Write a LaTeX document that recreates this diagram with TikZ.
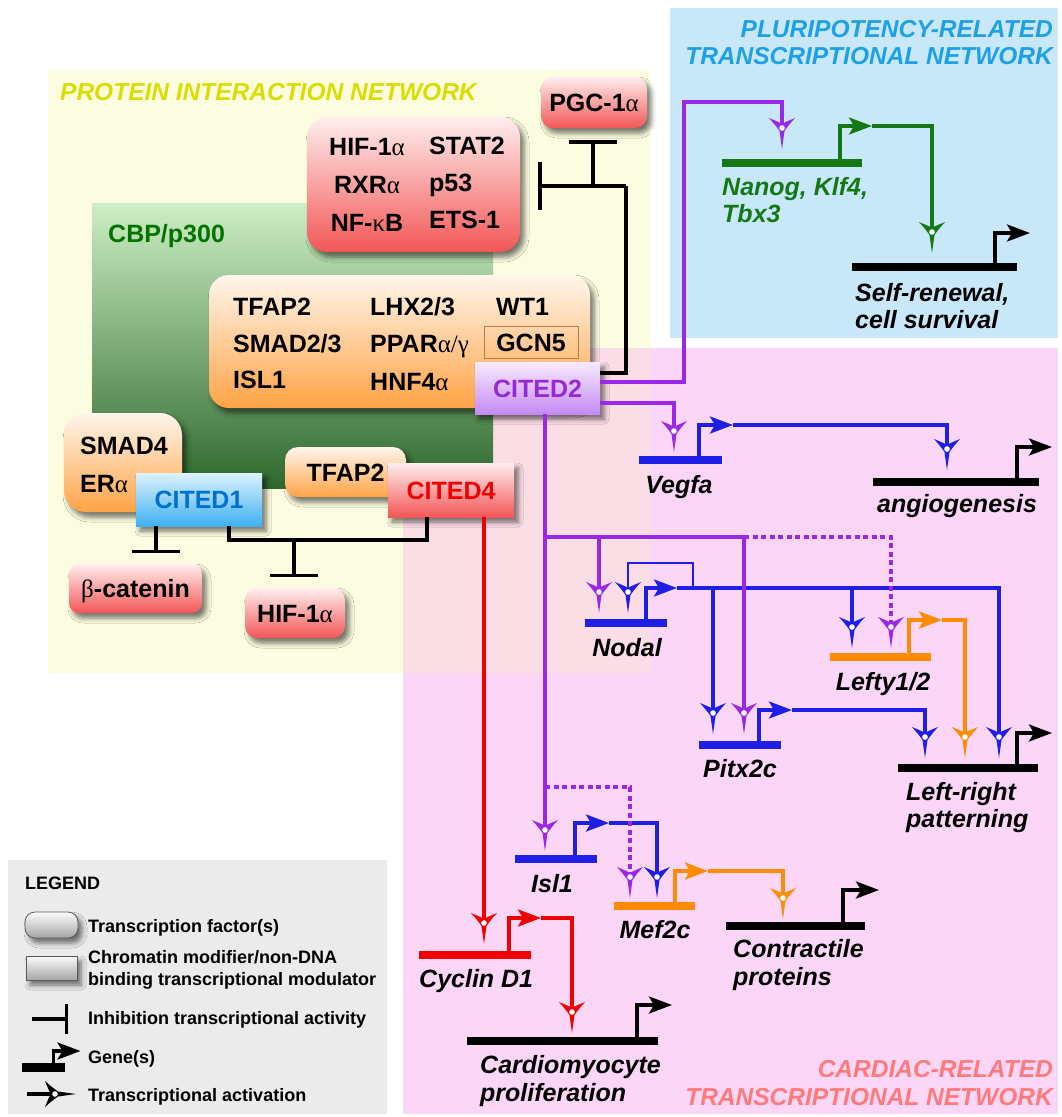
\documentclass[tikz,border=0pt]{standalone}
\usepackage{fontspec}
\setmainfont{Liberation Sans}
\newfontfamily\greekserif{Liberation Serif}
\usetikzlibrary{arrows.meta,shadows.blur}

\definecolor{bgyellow}{RGB}{252,252,224}
\definecolor{bgblue}{RGB}{200,232,250}
\definecolor{bgpink}{RGB}{251,214,247}
\definecolor{bgmix}{RGB}{251,221,230}
\definecolor{bggray}{RGB}{235,235,235}
\definecolor{cbptop}{RGB}{205,238,196}
\definecolor{cbpbot}{RGB}{46,104,46}
\definecolor{tyellow}{RGB}{218,222,0}
\definecolor{tblue}{RGB}{30,160,230}
\definecolor{tpink}{RGB}{255,122,122}
\definecolor{tgreen}{RGB}{0,115,0}
\definecolor{redtop}{RGB}{255,238,238}
\definecolor{redbot}{RGB}{243,86,86}
\definecolor{orgtop}{RGB}{255,246,236}
\definecolor{orgbot}{RGB}{255,163,70}
\definecolor{c1top}{RGB}{222,243,255}
\definecolor{c1bot}{RGB}{62,176,240}
\definecolor{c2top}{RGB}{247,234,255}
\definecolor{c2bot}{RGB}{196,138,244}
\definecolor{graytop}{RGB}{252,252,252}
\definecolor{graybot}{RGB}{165,165,165}
\definecolor{lpurple}{RGB}{155,40,230}
\definecolor{lblue}{RGB}{30,30,230}
\definecolor{lgreen}{RGB}{20,120,20}
\definecolor{lorange}{RGB}{255,140,0}
\definecolor{lred}{RGB}{240,0,0}
\definecolor{c1text}{RGB}{0,112,210}
\definecolor{c2text}{RGB}{150,40,215}
\definecolor{gcnline}{RGB}{185,125,65}

\newcommand{\grk}[1]{{\greekserif\mdseries #1}}
\newcommand{\boxfont}{\fontsize{25}{30}\selectfont\bfseries}
\newcommand{\genefont}{\fontsize{25}{30}\selectfont\bfseries\itshape}
\newcommand{\netfont}{\fontsize{24.5}{30}\selectfont\bfseries\itshape}
\newcommand{\legfont}{\fontsize{18}{22}\selectfont\bfseries}

\begin{document}
\begin{tikzpicture}[x=1pt, y=-1pt,
  protbox/.style={rectangle, inner sep=0pt, text height=18pt, text depth=0pt, font=\boxfont,
    blur shadow={shadow xshift=4pt, shadow yshift=-5pt, shadow blur radius=5pt, shadow opacity=55}},
  tfbox/.style={protbox, rounded corners=#1},
  redfill/.style={top color=redtop, bottom color=redbot},
  orgfill/.style={top color=orgtop, bottom color=orgbot},
  lbl/.style={font=\boxfont, inner sep=0pt, anchor=base west},
  lblc/.style={font=\boxfont, inner sep=0pt, anchor=base},
  glbl/.style={font=\genefont, inner sep=0pt, anchor=base},
  glbll/.style={font=\genefont, inner sep=0pt, anchor=base west},
  nettitle/.style={font=\netfont, inner sep=0pt},
  legtxt/.style={font=\legfont, inner sep=0pt, anchor=base west},
  gbar/.style={rectangle, inner sep=0pt, minimum height=7.5pt, fill=#1},
  conn/.style={line width=3.5pt},
  inh/.style={conn, -{Bar[width=48pt]}},
  prom/.style={conn, -{Stealth[length=23pt, width=17pt, inset=5pt]}},
  dashline/.style={dash pattern=on 5pt off 3.5pt},
  act/.pic={
    \fill (0,21) -- (2.5,3) .. controls (6,-2) .. (13,-10)
      .. controls (6,-7) and (3,-6) .. (0,-4)
      .. controls (-3,-6) and (-6,-7) .. (-13,-10)
      .. controls (-6,-2) .. (-2.5,3) -- cycle;
    \fill[white] (0,0) circle (2.8);
  }]
\useasboundingbox (0,0) rectangle (1062,1117);

% Network areas
\fill[bgyellow] (48,70) rectangle (650,673);
\fill[bgblue] (670,8) rectangle (1058,338);
\fill[bgpink] (403,348) rectangle (1058,1114);
\fill[bgmix] (403,348) rectangle (650,673);
\shade[top color=cbptop, bottom color=cbpbot] (92,203) rectangle (493,488);
\fill[bggray] (8,860) rectangle (387,1114);

\node[nettitle, anchor=base west, text=tyellow] (pin) at (60,100) {PROTEIN INTERACTION NETWORK};
\node[nettitle, font=\boxfont, anchor=base west, text=tgreen] (cbp) at (108,242) {CBP/p300};
\node[nettitle, anchor=base east, text=tblue] (plu1) at (1053,37) {PLURIPOTENCY-RELATED};
\node[nettitle, anchor=base east, text=tblue] (plu2) at (1053,64) {TRANSCRIPTIONAL NETWORK};
\node[nettitle, anchor=base east, text=tpink] (car1) at (1053,1077) {CARDIAC-RELATED};
\node[nettitle, anchor=base east, text=tpink] (car2) at (1053,1105) {TRANSCRIPTIONAL NETWORK};

% Protein interaction network
\node[tfbox=12pt, redfill, minimum width=106pt, minimum height=51pt] (pgc) at (594,102.5) {PGC-1\grk{α}};
\node[tfbox=20pt, redfill, minimum width=213pt, minimum height=135pt] (hifbox) at (413.5,184.5) {};
\node[lblc] (hif1) at (367,155) {HIF-1\grk{α}};
\node[lblc] (rxr) at (367,193) {RXR\grk{α}};
\node[lblc] (nfkb) at (367,231) {NF-\grk{κ}B};
\node[lbl] (stat2) at (429,154) {STAT2};
\node[lbl] (p53) at (429,191) {p53};
\node[lbl] (ets1) at (429,228) {ETS-1};

\node[tfbox=20pt, orgfill, minimum width=381pt, minimum height=133pt] (tfbig) at (399.5,341.5) {};
\node[lbl] (tfap2a) at (233,315) {TFAP2};
\node[lbl] (smad23) at (233,352) {SMAD2/3};
\node[lbl] (isl1p) at (233,388) {ISL1};
\node[lbl] (lhx) at (370,315) {LHX2/3};
\node[lbl] (ppar) at (370,352) {PPAR\grk{α/γ}};
\node[lbl] (hnf) at (370,390) {HNF4\grk{α}};
\node[lbl] (wt1) at (496,315) {WT1};
\node[rectangle, draw=gcnline, line width=1pt, minimum width=94pt, minimum height=32pt, font=\boxfont,
  text height=18pt, text depth=0pt, inner sep=0pt] (gcn5) at (531,342) {GCN5};
\node[protbox, top color=c2top, bottom color=c2bot, minimum width=125pt, minimum height=52pt, text=c2text] (cited2) at (537.5,388) {CITED2};

\node[tfbox=22pt, orgfill, minimum width=118pt, minimum height=99pt] (smad4box) at (123,462.5) {};
\node[lbl] (smad4) at (80,454) {SMAD4};
\node[lbl] (era) at (80,492) {ER\grk{α}};
\node[protbox, top color=c1top, bottom color=c1bot, minimum width=126pt, minimum height=53pt, text=c1text] (cited1) at (199,499.5) {CITED1};
\node[tfbox=13pt, orgfill, minimum width=121pt, minimum height=50pt] (tfap2b) at (345.5,472) {TFAP2};
\node[protbox, redfill, minimum width=126pt, minimum height=54pt, text=lred] (cited4) at (451,490) {CITED4};
\node[tfbox=10pt, redfill, minimum width=133pt, minimum height=49pt] (bcat) at (135.5,588.5) {\grk{β}-catenin};
\node[tfbox=12pt, redfill, minimum width=100pt, minimum height=50pt] (hif1b) at (295,613) {HIF-1\grk{α}};

% Inhibitions
\coordinate (k5) at (626,186);
\coordinate (k6) at (593,186);
\coordinate (hifT) at (538,186);
\coordinate (pgcT) at (593,140);
\draw[conn] ([yshift=15pt]cited2.east) -| (k5);
\draw[inh] (k5) -- (hifT);
\draw[inh] (k6) -- (pgcT);
\coordinate (bcatT) at (156,553);
\coordinate (k7) at (294,540);
\coordinate (hifbT) at (294,577);
\draw[inh] ([xshift=-43pt]cited1.south) -- (bcatT);
\draw[conn] ([xshift=30pt]cited1.south) |- (k7) -| ([xshift=-24pt]cited4.south);
\draw[inh] (k7) -- (hifbT);

% Genes
\node[gbar=lgreen, minimum width=140pt] (g-nanog) at (792,163) {};
\node[gbar=black, minimum width=165pt] (g-self) at (934.5,267) {};
\node[gbar=lblue, minimum width=83pt] (g-vegfa) at (680.5,460) {};
\node[gbar=black, minimum width=166pt] (g-angio) at (956,482) {};
\node[gbar=lblue, minimum width=82pt] (g-nodal) at (626,623) {};
\node[gbar=lorange, minimum width=101pt] (g-lefty) at (880.5,657) {};
\node[gbar=lblue, minimum width=82pt] (g-pitx) at (740,745) {};
\node[gbar=black, minimum width=140pt] (g-lr) at (968,768) {};
\node[gbar=lblue, minimum width=82pt] (g-isl) at (556,859) {};
\node[gbar=lorange, minimum width=81pt] (g-mef) at (654.5,906) {};
\node[gbar=black, minimum width=139pt] (g-contr) at (795.5,926) {};
\node[gbar=lred, minimum width=112pt] (g-cycd) at (475,955) {};
\node[gbar=black, minimum width=191pt] (g-cardio) at (562.5,1041) {};

\node[glbll, text=lgreen] (l-nanog1) at (722,195) {Nanog, Klf4,};
\node[glbll, text=lgreen] (l-nanog2) at (722,222) {Tbx3};
\node[glbll] (l-self1) at (855,301) {Self-renewal,};
\node[glbll] (l-self2) at (855,328) {cell survival};
\node[glbl] (l-vegfa) at (679,493) {Vegfa};
\node[glbl] (l-angio) at (957,512) {angiogenesis};
\node[glbl] (l-nodal) at (627,656) {Nodal};
\node[glbl] (l-lefty) at (883,690) {Lefty1/2};
\node[glbl] (l-pitx) at (740,777) {Pitx2c};
\node[glbll] (l-lr1) at (906,800) {Left-right};
\node[glbll] (l-lr2) at (906,827) {patterning};
\node[glbl] (l-isl) at (552,892) {Isl1};
\node[glbl] (l-mef) at (655,938) {Mef2c};
\node[glbll] (l-contr1) at (733,957) {Contractile};
\node[glbll] (l-contr2) at (733,985) {proteins};
\node[glbll] (l-cycd) at (419,987) {Cyclin D1};
\node[glbll] (l-card1) at (480,1073) {Cardiomyocyte};
\node[glbll] (l-card2) at (480,1101) {proliferation};

% Activation points
\coordinate (a-nanog) at (782,128);
\coordinate (a-self) at (932,232);
\coordinate (a-vegfa) at (674,431);
\coordinate (a-angio) at (947,449);
\coordinate (a-nodal1) at (599,592);
\coordinate (a-nodal2) at (628,592);
\coordinate (a-lefty1) at (852,627);
\coordinate (a-lefty2) at (891,627);
\coordinate (a-pitx1) at (713,713);
\coordinate (a-pitx2) at (744,713);
\coordinate (a-lr1) at (925,737);
\coordinate (a-lr2) at (965,737);
\coordinate (a-lr3) at (999,737);
\coordinate (a-isl) at (545,830);
\coordinate (a-mef1) at (630,877);
\coordinate (a-mef2) at (657,877);
\coordinate (a-contr) at (783,898);
\coordinate (a-cycd) at (484,923);
\coordinate (a-cardio) at (572,1012);

% Gene outputs
\draw[prom, lgreen] ([xshift=48pt]g-nanog.center) |- ++(32,-37) coordinate (t-nanog);
\draw[conn, lgreen] (t-nanog) -| (a-self);
\draw[prom] ([xshift=60.5pt]g-self.center) |- ++(35,-34);
\draw[prom, lblue] ([xshift=18.5pt]g-vegfa.center) |- ++(34,-35) coordinate (t-vegfa);
\draw[conn, lblue] (t-vegfa) -| (a-angio);
\draw[prom] ([xshift=61pt]g-angio.center) |- ++(35,-35);
\draw[prom, lblue] ([xshift=20pt]g-nodal.center) |- ++(31,-35) coordinate (t-nodal);
\draw[conn, lblue] (t-nodal) -| (a-lr3);
\draw[conn, lblue] (a-pitx1 |- t-nodal) -- (a-pitx1);
\draw[conn, lblue] (a-lefty1 |- t-nodal) -- (a-lefty1);
\coordinate (k4) at (693,563);
\draw[lblue, line width=2.2pt] (k4 |- t-nodal) -- (k4) -| (a-nodal2);
\draw[prom, lorange] ([xshift=28.5pt]g-lefty.center) |- ++(33,-37) coordinate (t-lefty);
\draw[conn, lorange] (t-lefty) -| (a-lr2);
\draw[prom, lblue] ([xshift=19pt]g-pitx.center) |- ++(33,-35) coordinate (t-pitx);
\draw[conn, lblue] (t-pitx) -| (a-lr1);
\draw[prom] ([xshift=49pt]g-lr.center) |- ++(35,-35);
\draw[prom, lblue] ([xshift=19pt]g-isl.center) |- ++(34,-36) coordinate (t-isl);
\draw[conn, lblue] (t-isl) -| (a-mef2);
\draw[prom, lorange] ([xshift=20.5pt]g-mef.center) |- ++(33,-35) coordinate (t-mef);
\draw[conn, lorange] (t-mef) -| (a-contr);
\draw[prom] ([xshift=47.5pt]g-contr.center) |- ++(36,-36);
\draw[prom, lred] ([xshift=34pt]g-cycd.center) |- ++(32,-37) coordinate (t-cycd);
\draw[conn, lred] (t-cycd) -| (a-cardio);
\draw[prom] ([xshift=74.5pt]g-cardio.center) |- ++(35,-36);

% CITED4 and CITED2 targets
\draw[conn, lred] ([xshift=33pt]cited4.south) -- (a-cycd);
\coordinate (k1) at (684,102);
\coordinate (k2) at (545,537);
\coordinate (k3) at (545,787);
\draw[conn, lpurple] ([yshift=6pt]cited2.east) -| (k1) -| (a-nanog);
\draw[conn, lpurple] ([yshift=-15pt]cited2.east) -| (a-vegfa);
\draw[conn, lpurple] ([xshift=7.5pt]cited2.south) -- (a-isl);
\draw[conn, lpurple] (k2) -| (a-pitx2);
\draw[conn, lpurple] (a-nodal1 |- k2) -- (a-nodal1);
\draw[conn, lpurple, dashline] (a-pitx2 |- k2) -| (a-lefty2);
\draw[conn, lpurple, dashline] (k3) -| (a-mef1);

\foreach \p/\c in {a-nanog/lpurple, a-self/lgreen, a-vegfa/lpurple, a-angio/lblue,
    a-nodal1/lpurple, a-nodal2/lblue, a-lefty1/lblue, a-lefty2/lpurple,
    a-pitx1/lblue, a-pitx2/lpurple, a-lr1/lblue, a-lr2/lorange, a-lr3/lblue,
    a-isl/lpurple, a-mef1/lpurple, a-mef2/lblue, a-contr/lorange,
    a-cycd/lred, a-cardio/lred}
  \pic[color=\c] at (\p) {act};

% Legend
\node[legtxt] (leg) at (25,889) {LEGEND};
\node[tfbox=10pt, top color=graytop, bottom color=graybot, draw=gray!70!black, line width=0.8pt,
  minimum width=53pt, minimum height=26pt] (leg-tf) at (51.5,925) {};
\node[legtxt] (leg-tf-t) at (88,932) {Transcription factor(s)};
\node[protbox, top color=graytop, bottom color=graybot, draw=gray!70!black, line width=0.8pt,
  minimum width=51pt, minimum height=24pt] (leg-cm) at (51.5,968) {};
\node[legtxt] (leg-cm-t1) at (88,963) {Chromatin modifier/non-DNA};
\node[legtxt] (leg-cm-t2) at (88,985) {binding transcriptional modulator};
\coordinate (leg-i1) at (32,1019);
\coordinate (leg-i2) at (68,1019);
\draw[inh, -{Bar[width=30pt]}] (leg-i1) -- (leg-i2);
\node[legtxt] (leg-i-t) at (88,1024) {Inhibition transcriptional activity};
\node[gbar=black, minimum width=43pt, minimum height=9pt] (leg-g) at (43.5,1067) {};
\draw[prom] ([xshift=10pt]leg-g.center) |- ++(27,-16);
\node[legtxt] (leg-gene) at (88,1063) {Gene(s)};
\coordinate (leg-a1) at (27,1094);
\coordinate (leg-a2) at (55,1094);
\draw[conn] (leg-a1) -- (leg-a2);
\pic[rotate=90] at (leg-a2) {act};
\node[legtxt] (leg-act) at (88,1101) {Transcriptional activation};
\end{tikzpicture}
\end{document}
